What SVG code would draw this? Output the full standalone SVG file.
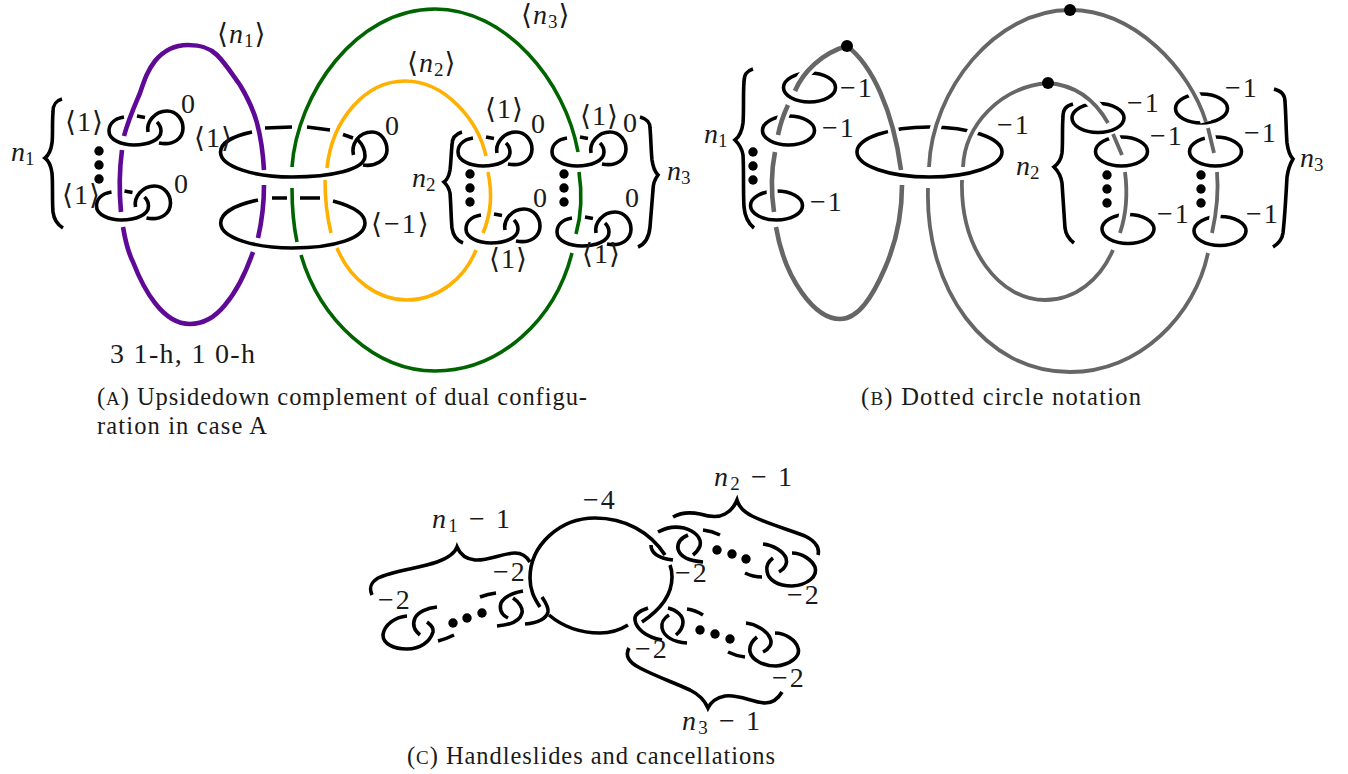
<svg xmlns="http://www.w3.org/2000/svg" xmlns:xlink="http://www.w3.org/1999/xlink" width="1348" height="774" viewBox="0 0 1348 774">
<style>
text{font-family:"Liberation Serif","DejaVu Serif",serif;fill:#1a1a1a}
.l{font-size:28px}
.n{letter-spacing:2px}
.a{letter-spacing:1px}
.c{font-size:24.5px}
.sm{font-size:19px}
.i{font-style:italic}
.s{font-size:19px}
path,ellipse{fill:none;stroke-linecap:butt}
.k{stroke:#000;stroke-width:3.6}
.p{stroke:#5e0a96;stroke-width:4.6}
.g{stroke:#006400;stroke-width:3.6}
.y{stroke:#ffb000;stroke-width:3.6}
.h{stroke:#666;stroke-width:3.8}
.t{stroke:#666;stroke-width:4.6}
.w{stroke:#fff;stroke-width:11}
circle{fill:#000}
</style>
<defs>
<g id="clasp">
<path class="k" d="M124,117C112,119 109,126 109,131C109,140 122,145 134,145C148,145 161,140 161,131C161,127 159,124 157,122"/>
<path class="k" d="M137,116L145,117.5"/>
<path class="k" d="M148,132C146,122 155,111 167,111C177,111 183,120 183,128C183,138 174,146 159,143"/>
</g>
<g id="dots"><circle cx="0" cy="0" r="4.7"/><circle cx="0" cy="14" r="4.7"/><circle cx="0" cy="28" r="4.7"/></g>
<ellipse id="ring" class="k" cx="0" cy="0" rx="26" ry="14.5"/>
<g id="gs">
<path d="M929,167C932,90 995,10 1070,10C1135,10 1190,70 1206,122"/>
<path d="M963,167C965,125 1000,87 1048,83C1075,85 1095,100 1108,123"/>
</g>
<g id="gt">
<path d="M795,91C803,72 822,53 847,46C872,65 893,110 901,170"/>
<path d="M788,105Q781,120 778,135"/>
</g>
</defs>

<g id="fig-a">
<g id="a-strands">
<path class="p" d="M124,136C129,118 135,105 140,93C145,78 148,70 155,61C164,50 176,45 188,45C202,45 210,48 217,55C226,64 232,74 240,85C249,100 254,112 257,123C261,138 263,152 264,170"/>
<path class="p" d="M122,150Q118,180 121,212"/>
<path class="p" d="M264,185Q264,212 258,238"/>
<path class="p" d="M123,227C126,245 129,254 133,262C140,280 147,293 155,303C165,316 177,324 190,324C205,324 216,316 225,305C236,292 246,272 253,252"/>
<path class="g" d="M292,167C297,95 355,9 435,9C505,9 565,80 578,152"/>
<path class="g" d="M579,172Q584,205 576,234"/>
<path class="g" d="M292,188Q292,218 297,242"/>
<path class="g" d="M301,255C320,320 375,371 435,371C500,371 555,320 572,253"/>
<path class="y" d="M327,168C332,120 365,81 405,81C445,81 478,120 486,156"/>
<path class="y" d="M488,172Q495,205 483,233"/>
<path class="y" d="M325,180Q325,208 331,233"/>
<path class="y" d="M337,248C350,280 378,300 407,300C438,300 465,278 476,250"/>
</g>
<g id="a-n1-top"><use href="#clasp"/></g>
<g id="a-n1-bottom"><use href="#clasp" x="-12.500" y="75"/></g>
<g id="a-n2-top"><use href="#clasp" x="349" y="21"/></g>
<g id="a-n2-bottom"><use href="#clasp" x="357" y="98"/></g>
<g id="a-n3-top"><use href="#clasp" x="443" y="21"/></g>
<g id="a-n3-bottom"><use href="#clasp" x="448" y="101"/></g>
<g id="a-big-top">
<path class="k" d="M252,132C233,136 220.500,143 220.500,152C220.500,167 255,177 292,177C330,177 365,170 365,156C365,150 362,144 358,140"/>
<path class="k" d="M265,128L292,127M307,127L330,130M343,134.500L353,138"/>
<path class="k" d="M353.500,155C351,145 358,132 372,132C382,132 387,142 387,150C387,160 375,167 363,165"/>
</g>
<g id="a-big-bottom">
<path class="k" d="M258,200C235,205 220.700,213 220.700,223C220.700,238 255,248 292,248C335,248 365,238 365,223C365,214 355,207 333,201"/>
<path class="k" d="M272,198L287,198M300,198L320,198"/>
</g>
<g id="a-marks">
<use href="#dots" x="99" y="151"/><use href="#dots" x="470" y="174"/><use href="#dots" x="564" y="174"/>
<path class="k" d="M62,99C55,101 53,105 53,112C52,125 53,135 52,143C51,150 49,155 45,158C49,161 51,166 52,173C53,185 52,200 53,212C54,220 58,225 63,228"/>
<path class="k" d="M462,132C455,134 452,138 452,145C451,155 451,163 450,170C449,176 447,180 444,182C447,185 449,188 450,193C451,205 451,218 452,228C453,236 458,241 463,243"/>
<path class="k" d="M640,117C647,119 650,122 650,128C651,140 651,150 652,160C653,167 655,172 658,175C655,179 653,184 653,190C652,203 651,215 650,227C649,238 645,244 638,247"/>
</g>
<g id="a-labels">
<text class="l a" x="217" y="43">⟨<tspan class="i">n</tspan><tspan class="s" dy="4">1</tspan><tspan dy="-4">⟩</tspan></text>
<text class="l a" x="521" y="24">⟨<tspan class="i">n</tspan><tspan class="s" dy="4">3</tspan><tspan dy="-4">⟩</tspan></text>
<text class="l a" x="407" y="72">⟨<tspan class="i">n</tspan><tspan class="s" dy="4">2</tspan><tspan dy="-4">⟩</tspan></text>
<text class="l a" x="65" y="131">⟨1⟩</text>
<text class="l a" x="62" y="204">⟨1⟩</text>
<text class="l a" x="194" y="147">⟨1⟩</text>
<text class="l a" x="485" y="118">⟨1⟩</text>
<text class="l a" x="580" y="125">⟨1⟩</text>
<text class="l a" x="489" y="268">⟨1⟩</text>
<text class="l a" x="582" y="263">⟨1⟩</text>
<text class="l n" x="371" y="233">⟨−1⟩</text>
<text class="l" x="181" y="113">0</text>
<text class="l" x="174" y="193">0</text>
<text class="l" x="385" y="135">0</text>
<text class="l" x="531" y="133">0</text>
<text class="l" x="623" y="132">0</text>
<text class="l" x="533" y="207">0</text>
<text class="l" x="625" y="207">0</text>
<text class="l i" x="11" y="161">n<tspan class="s" dy="4" font-style="normal">1</tspan></text>
<text class="l i" x="412" y="187">n<tspan class="s" dy="4" font-style="normal">2</tspan></text>
<text class="l i" x="667" y="180">n<tspan class="s" dy="4" font-style="normal">3</tspan></text>
<text class="l" x="110" y="363" textLength="145">3 1-h, 1 0-h</text>
<text class="c" x="97" y="405" textLength="490">(<tspan class="sm">A</tspan>) Upsidedown complement of dual configu-</text>
<text class="c" x="97" y="434" textLength="170">ration in case A</text>
</g>
</g>

<g id="fig-b">
<g id="b-rings">
<use href="#ring" x="809.500" y="87.500"/>
<use href="#ring" x="788.500" y="130.500"/>
<use href="#ring" x="776.500" y="205.500"/>
<ellipse class="k" cx="929.500" cy="152" rx="72.500" ry="25"/>
<use href="#ring" x="1098" y="118"/>
<use href="#ring" x="1121.500" y="151.500"/>
<use href="#ring" x="1128" y="229"/>
<use href="#ring" x="1201.500" y="108.500"/>
<use href="#ring" x="1215.500" y="151.500"/>
<use href="#ring" x="1220" y="231"/>
</g>
<g id="b-strands">
<use href="#gs" class="w"/>
<use href="#gt" class="w"/>
<path class="w" d="M775,152C771,172 771,192 774,212M1113,134L1122,155M1208,128L1214,153M1125,172C1128,195 1126,215 1120,233M1217,172C1219,195 1216,215 1212,233"/>
<use href="#gs" class="h"/>
<use href="#gt" class="t"/>
<path class="t" d="M775,152C771,172 771,192 774,212"/>
<path class="t" d="M902,185C902,220 895,245 885,268C872,298 858,319 840,319C815,319 785,280 776,227"/>
<path class="h" d="M1113,134L1122,155M1208,128L1214,153"/>
<path class="h" d="M1125,172C1128,195 1126,215 1120,233"/>
<path class="h" d="M1217,172C1219,195 1216,215 1212,233"/>
<path class="h" d="M1208,253C1195,315 1140,372 1070,372C985,372 925,290 928,188"/>
<path class="h" d="M1113,250C1100,280 1075,300 1045,300C1000,300 960,250 962,180"/>
</g>
<g id="b-marks">
<circle cx="847" cy="46" r="6"/><circle cx="1070" cy="10" r="6"/><circle cx="1048" cy="83" r="6"/>
<use href="#dots" x="753" y="152"/><use href="#dots" x="1107" y="175"/><use href="#dots" x="1201" y="175"/>
<path class="k" d="M753,69C747,71 744,74 744,82C743,95 744,110 743,123C742,131 739,137 735,140C739,144 742,148 743,155C744,170 743,190 744,207C745,218 749,224 754,228"/>
<path class="k" d="M1073,104C1066,106 1063,109 1063,117C1062,130 1063,142 1062,153C1061,160 1058,164 1054,167C1058,171 1061,176 1062,183C1063,198 1064,214 1065,228C1066,236 1070,240 1074,243"/>
<path class="k" d="M1274,89C1281,91 1285,94 1285,102C1286,115 1286,130 1287,143C1288,150 1290,156 1293,159C1290,164 1288,170 1287,177C1286,195 1285,215 1283,233C1282,240 1278,244 1273,247"/>
</g>
<g id="b-labels">
<text class="l n" x="840" y="97">−1</text>
<text class="l n" x="822" y="137">−1</text>
<text class="l n" x="810" y="211">−1</text>
<text class="l n" x="997" y="134">−1</text>
<text class="l n" x="1127" y="112">−1</text>
<text class="l n" x="1150" y="145">−1</text>
<text class="l n" x="1157" y="223">−1</text>
<text class="l n" x="1225" y="97">−1</text>
<text class="l n" x="1244" y="142">−1</text>
<text class="l n" x="1246" y="223">−1</text>
<text class="l i" x="704" y="143">n<tspan class="s" dy="4" font-style="normal">1</tspan></text>
<text class="l i" x="1016" y="175">n<tspan class="s" dy="4" font-style="normal">2</tspan></text>
<text class="l i" x="1300" y="167">n<tspan class="s" dy="4" font-style="normal">3</tspan></text>
<text class="c" x="861" y="405" textLength="280">(<tspan class="sm">B</tspan>) Dotted circle notation</text>
</g>
</g>

<g id="fig-c">
<g id="c-centre">
<path class="k" d="M665,555C650,532 625,518 595,518C560,518 530,545 530,578C530,590 534,598 540,607"/>
<path class="k" d="M549,615C562,626 580,633 600,633C612,633 620,630 628,625"/>
<path class="k" d="M642,622C660,610 672,595 672,577Q672,570 670,565"/>
<path class="k" d="M542,597C546,603 549,608 548,612C546,619 537,623 525,624"/>
<path class="k" d="M651,545C651,552 657,558 673,560"/>
<path class="k" d="M648,608C639,611 634,615 635,620C636,628 645,637 662,640"/>
</g>
<g id="c-chain-left">
<path class="k" d="M523,591C512,593 504,597 501,603C499,610 502,615 508,618"/>
<path class="k" d="M513,598C519,602 523,608 522,613C520,621 511,625 497,626"/>
<path class="k" d="M480,597Q488,594 496,593"/>
<path class="k" d="M454,635Q446,639 438,641"/>
<path class="k" d="M437,607C427,608 418,612 415,618C412,625 415,631 420,635"/>
<path class="k" d="M407,616C395,617 384,625 383,635C383,644 394,649 407,649C420,649 430,642 433,632C434,628 431,625 427,622"/>
<circle cx="453" cy="623" r="4.7"/><circle cx="467" cy="618" r="4.7"/><circle cx="482" cy="613" r="4.700"/>
</g>
<g id="c-chain-upper">
<path class="k" d="M658,532C665,528 675,526 684,528C695,531 702,538 700,546Q698,551 693,555"/>
<path class="k" d="M688,535C681,538 677,543 678,549C680,557 690,561 703,562"/>
<path class="k" d="M703,530Q712,531 720,535"/>
<path class="k" d="M745,573Q753,577 762,577"/>
<path class="k" d="M763,544C773,545 783,551 786,558C788,564 784,569 779,572"/>
<path class="k" d="M792,553C802,553 812,560 815,567C818,576 808,585 792,586C778,586 768,580 767,571C766,566 769,561 773,558"/>
<circle cx="717" cy="550" r="4.7"/><circle cx="732" cy="554" r="4.7"/><circle cx="746" cy="559" r="4.700"/>
</g>
<g id="c-chain-lower">
<path class="k" d="M668,608C677,610 683,616 683,622Q683,629 676,635"/>
<path class="k" d="M669,615C664,618 661,623 662,628C664,637 674,642 687,643"/>
<path class="k" d="M687,609Q695,610 703,615"/>
<path class="k" d="M728,652Q736,656 745,657"/>
<path class="k" d="M746,623C756,624 767,631 770,638C773,644 769,649 763,652"/>
<path class="k" d="M775,633C785,633 796,640 798,648C801,657 789,665 776,666C763,666 752,660 750,652C749,646 752,641 757,637"/>
<circle cx="700" cy="630" r="4.7"/><circle cx="715" cy="634" r="4.7"/><circle cx="730" cy="639" r="4.700"/>
</g>
<g id="c-braces">
<path class="k" d="M372,595C369,588 370,583 378,578C392,571 420,568 437,562C448,558 455,553 457,547C460,554 465,559 475,560C488,561 503,553 515,553C522,553 527,557 530,562"/>
<path class="k" d="M673,517C680,513 690,512 700,514C710,517 718,518 725,514C731,511 735,505 737,500C739,507 744,512 752,516C768,524 790,530 805,536C815,541 820,547 818,555"/>
<path class="k" d="M629,648C625,655 628,662 640,668C655,676 675,683 690,690C700,695 705,701 708,708C711,702 715,698 725,696C738,694 752,702 765,703C773,703 778,699 782,692"/>
</g>
<g id="c-labels">
<text class="l n" x="583" y="509">−4</text>
<text class="l n" x="378" y="609">−2</text>
<text class="l n" x="493" y="581">−2</text>
<text class="l n" x="675" y="582">−2</text>
<text class="l n" x="787" y="604">−2</text>
<text class="l n" x="635" y="658">−2</text>
<text class="l n" x="772" y="687">−2</text>
<text class="l" x="432" y="528" textLength="78"><tspan class="i">n</tspan><tspan class="s" dy="4">1</tspan><tspan dy="-4"> − 1</tspan></text>
<text class="l" x="714" y="486" textLength="78"><tspan class="i">n</tspan><tspan class="s" dy="4">2</tspan><tspan dy="-4"> − 1</tspan></text>
<text class="l" x="682" y="730" textLength="78"><tspan class="i">n</tspan><tspan class="s" dy="4">3</tspan><tspan dy="-4"> − 1</tspan></text>
<text class="c" x="407" y="764" textLength="368">(<tspan class="sm">C</tspan>) Handleslides and cancellations</text>
</g>
</g>
</svg>
